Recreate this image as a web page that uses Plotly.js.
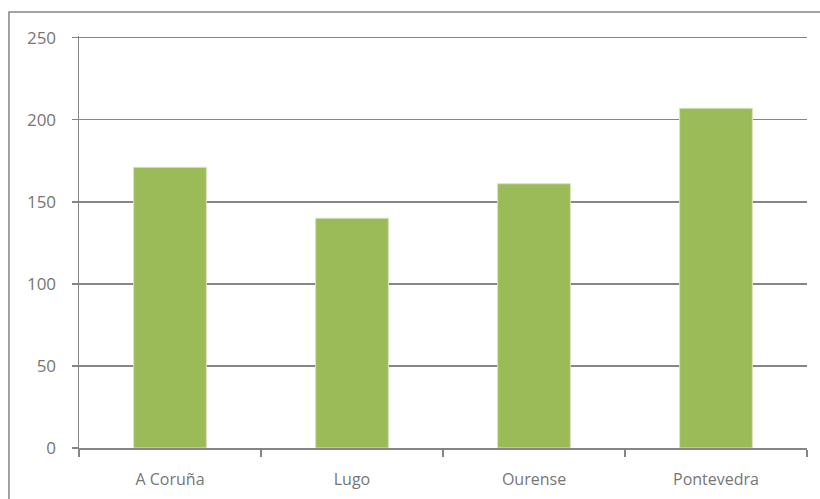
<!DOCTYPE html>
<html>
<head>
<meta charset="utf-8">
<script src="https://cdn.plot.ly/plotly-3.0.1.min.js"></script>
<style>html,body{margin:0;padding:0;background:#fff;}#chart{width:820px;height:499px;}</style>
</head>
<body>
<div id="chart"></div>
<script>
const categories = ["A Coruña", "Lugo", "Ourense", "Pontevedra"];
const values = [171, 140, 161, 207];
const yTicks = [0, 50, 100, 150, 200, 250];

const gridColor = "#868686";
const textColor = "#767676";

const trace = {
  type: "bar",
  x: categories,
  y: values,
  width: 0.4,
  marker: { color: "#9BBB59", line: { color: "#d7e4bd", width: 1 } },
  hoverinfo: "x+y"
};

const layout = {
  width: 820,
  height: 499,
  margin: { l: 79, r: 13, t: 35.9, b: 51 },
  paper_bgcolor: "#ffffff",
  plot_bgcolor: "#ffffff",
  showlegend: false,
  font: { family: "Open Sans, Noto Sans, sans-serif", size: 16, color: textColor },
  xaxis: {
    type: "category",
    range: [-0.5, 3.5],
    showline: true, linecolor: gridColor, linewidth: 1.5,
    ticks: "outside", tickson: "boundaries", ticklen: 7, tickcolor: gridColor, tickwidth: 1.5,
    showgrid: false, zeroline: false,
    tickfont: { size: 16, color: textColor },
    ticklabelstandoff: 16,
    fixedrange: true
  },
  yaxis: {
    range: [0, 251],
    tickvals: yTicks,
    ticktext: yTicks.map(String),
    showline: true, linecolor: gridColor, linewidth: 1.5,
    ticks: "outside", ticklen: 6, tickcolor: gridColor, tickwidth: 1.5,
    showgrid: true, gridcolor: gridColor, gridwidth: 1.5,
    zeroline: false,
    tickfont: { size: 17, color: textColor },
    ticklabelstandoff: 12,
    fixedrange: true
  },
  shapes: [{
    type: "rect", xref: "paper", yref: "paper",
    x0: -0.0962, x1: 1.2, y0: -0.3, y1: 1.058,
    line: { color: gridColor, width: 1.5 }, fillcolor: "rgba(0,0,0,0)", layer: "below"
  }]
};

Plotly.newPlot("chart", [trace], layout, { displayModeBar: false, staticPlot: true });
</script>
</body>
</html>
